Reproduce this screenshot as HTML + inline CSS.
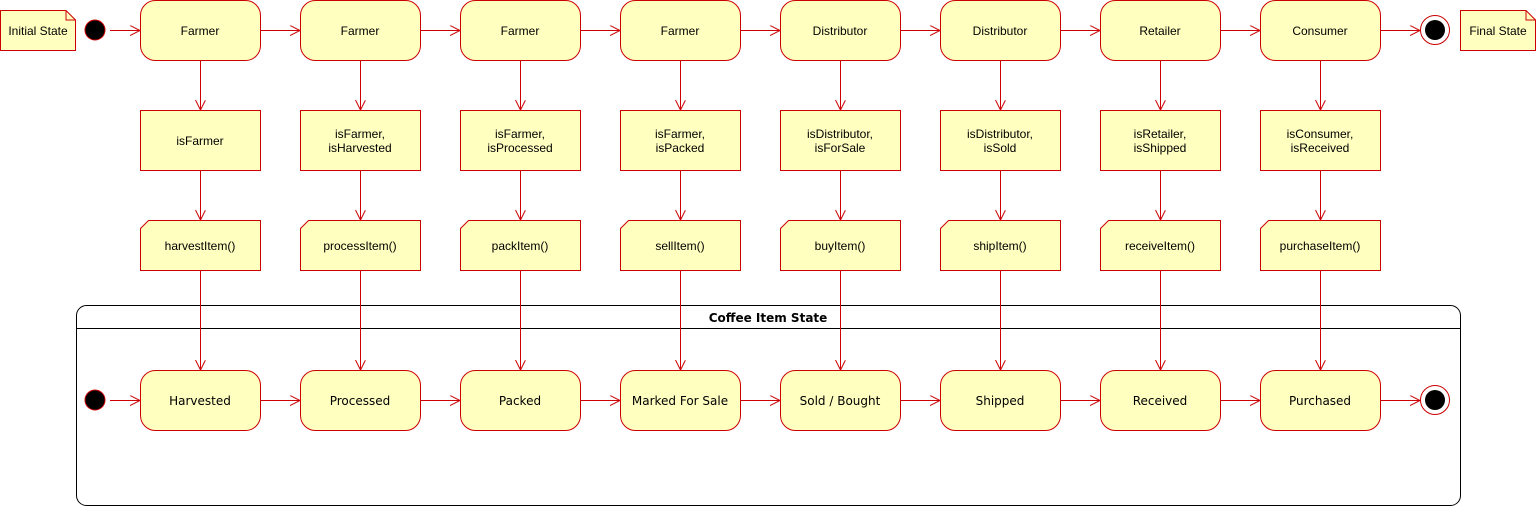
<!DOCTYPE html>
<html><head><meta charset="utf-8"><style>
html,body{margin:0;padding:0;background:#fff;}
svg{display:block}
text{font-family:"Liberation Sans",Arial,sans-serif;font-size:12px;fill:#000;text-anchor:middle;dominant-baseline:central}
.v{font-family:"DejaVu Sans",Verdana,sans-serif;font-size:12px}
.s{fill:#ffffc0;stroke:#cc0000;stroke-width:1}
.l{stroke:#cc0000;stroke-width:1;fill:none}
</style></head><body>
<svg width="1536" height="506" viewBox="0 0 1536 506" xmlns="http://www.w3.org/2000/svg">
<defs>
<marker id="a" markerWidth="12" markerHeight="12" refX="10" refY="5" orient="auto" markerUnits="userSpaceOnUse">
<path d="M0,0 L10,5 L0,10" fill="none" stroke="#cc0000" stroke-width="1"/>
</marker>
</defs>
<!-- container -->
<rect x="76.5" y="305.5" width="1384" height="200" rx="10" fill="#fff" stroke="#000"/>
<line x1="76.5" y1="328.5" x2="1460.5" y2="328.5" stroke="#000"/>
<text x="768" y="318" class="v" style="font-weight:bold">Coffee Item State</text>

<!-- notes -->
<path class="s" d="M0.5,10.5 H66 L75.5,20 V50.5 H0.5 Z"/><path class="l" d="M66,10.5 V20 H75.5"/>
<text x="38" y="31">Initial State</text>
<path class="s" d="M1460.5,10.5 H1526 L1535.5,20 V50.5 H1460.5 Z"/><path class="l" d="M1526,10.5 V20 H1535.5"/>
<text x="1498" y="31">Final State</text>

<!-- start/end top -->
<circle cx="95" cy="30" r="10" fill="#000" stroke="#cc0000"/>
<circle cx="1435" cy="30" r="14.5" fill="#fff" stroke="#cc0000"/>
<circle cx="1435" cy="30" r="10" fill="#000"/>
<circle cx="95" cy="400" r="10" fill="#000" stroke="#cc0000"/>
<circle cx="1435" cy="400" r="14.5" fill="#fff" stroke="#cc0000"/>
<circle cx="1435" cy="400" r="10" fill="#000"/>

<!-- horizontal arrows -->
<g class="l" marker-end="url(#a)">
<line x1="110" y1="30.5" x2="140" y2="30.5"/>
<line x1="260" y1="30.5" x2="300" y2="30.5"/>
<line x1="420" y1="30.5" x2="460" y2="30.5"/>
<line x1="580" y1="30.5" x2="620" y2="30.5"/>
<line x1="740" y1="30.5" x2="780" y2="30.5"/>
<line x1="900" y1="30.5" x2="940" y2="30.5"/>
<line x1="1060" y1="30.5" x2="1100" y2="30.5"/>
<line x1="1220" y1="30.5" x2="1260" y2="30.5"/>
<line x1="1380" y1="30.5" x2="1420" y2="30.5"/>
<line x1="110" y1="400.5" x2="140" y2="400.5"/>
<line x1="260" y1="400.5" x2="300" y2="400.5"/>
<line x1="420" y1="400.5" x2="460" y2="400.5"/>
<line x1="580" y1="400.5" x2="620" y2="400.5"/>
<line x1="740" y1="400.5" x2="780" y2="400.5"/>
<line x1="900" y1="400.5" x2="940" y2="400.5"/>
<line x1="1060" y1="400.5" x2="1100" y2="400.5"/>
<line x1="1220" y1="400.5" x2="1260" y2="400.5"/>
<line x1="1380" y1="400.5" x2="1420" y2="400.5"/>
</g>
<!-- vertical arrows -->
<g class="l" marker-end="url(#a)">
<line x1="200.5" y1="60" x2="200.5" y2="110"/><line x1="200.5" y1="170" x2="200.5" y2="220"/><line x1="200.5" y1="270" x2="200.5" y2="370"/>
<line x1="360.5" y1="60" x2="360.5" y2="110"/><line x1="360.5" y1="170" x2="360.5" y2="220"/><line x1="360.5" y1="270" x2="360.5" y2="370"/>
<line x1="520.5" y1="60" x2="520.5" y2="110"/><line x1="520.5" y1="170" x2="520.5" y2="220"/><line x1="520.5" y1="270" x2="520.5" y2="370"/>
<line x1="680.5" y1="60" x2="680.5" y2="110"/><line x1="680.5" y1="170" x2="680.5" y2="220"/><line x1="680.5" y1="270" x2="680.5" y2="370"/>
<line x1="840.5" y1="60" x2="840.5" y2="110"/><line x1="840.5" y1="170" x2="840.5" y2="220"/><line x1="840.5" y1="270" x2="840.5" y2="370"/>
<line x1="1000.5" y1="60" x2="1000.5" y2="110"/><line x1="1000.5" y1="170" x2="1000.5" y2="220"/><line x1="1000.5" y1="270" x2="1000.5" y2="370"/>
<line x1="1160.5" y1="60" x2="1160.5" y2="110"/><line x1="1160.5" y1="170" x2="1160.5" y2="220"/><line x1="1160.5" y1="270" x2="1160.5" y2="370"/>
<line x1="1320.5" y1="60" x2="1320.5" y2="110"/><line x1="1320.5" y1="170" x2="1320.5" y2="220"/><line x1="1320.5" y1="270" x2="1320.5" y2="370"/>
</g>

<!-- top states -->
<g class="s">
<rect x="140.5" y="0.5" width="120" height="60" rx="15"/>
<rect x="300.5" y="0.5" width="120" height="60" rx="15"/>
<rect x="460.5" y="0.5" width="120" height="60" rx="15"/>
<rect x="620.5" y="0.5" width="120" height="60" rx="15"/>
<rect x="780.5" y="0.5" width="120" height="60" rx="15"/>
<rect x="940.5" y="0.5" width="120" height="60" rx="15"/>
<rect x="1100.5" y="0.5" width="120" height="60" rx="15"/>
<rect x="1260.5" y="0.5" width="120" height="60" rx="15"/>
<rect x="140.5" y="110.5" width="120" height="60"/>
<rect x="300.5" y="110.5" width="120" height="60"/>
<rect x="460.5" y="110.5" width="120" height="60"/>
<rect x="620.5" y="110.5" width="120" height="60"/>
<rect x="780.5" y="110.5" width="120" height="60"/>
<rect x="940.5" y="110.5" width="120" height="60"/>
<rect x="1100.5" y="110.5" width="120" height="60"/>
<rect x="1260.5" y="110.5" width="120" height="60"/>
<path d="M148.5,220.5 H260.5 V270.5 H140.5 V228.5 Z"/>
<path d="M308.5,220.5 H420.5 V270.5 H300.5 V228.5 Z"/>
<path d="M468.5,220.5 H580.5 V270.5 H460.5 V228.5 Z"/>
<path d="M628.5,220.5 H740.5 V270.5 H620.5 V228.5 Z"/>
<path d="M788.5,220.5 H900.5 V270.5 H780.5 V228.5 Z"/>
<path d="M948.5,220.5 H1060.5 V270.5 H940.5 V228.5 Z"/>
<path d="M1108.5,220.5 H1220.5 V270.5 H1100.5 V228.5 Z"/>
<path d="M1268.5,220.5 H1380.5 V270.5 H1260.5 V228.5 Z"/>
<rect x="140.5" y="370.5" width="120" height="60" rx="15"/>
<rect x="300.5" y="370.5" width="120" height="60" rx="15"/>
<rect x="460.5" y="370.5" width="120" height="60" rx="15"/>
<rect x="620.5" y="370.5" width="120" height="60" rx="15"/>
<rect x="780.5" y="370.5" width="120" height="60" rx="15"/>
<rect x="940.5" y="370.5" width="120" height="60" rx="15"/>
<rect x="1100.5" y="370.5" width="120" height="60" rx="15"/>
<rect x="1260.5" y="370.5" width="120" height="60" rx="15"/>
</g>

<text x="200" y="31">Farmer</text>
<text x="360" y="31">Farmer</text>
<text x="520" y="31">Farmer</text>
<text x="680" y="31">Farmer</text>
<text x="840" y="31">Distributor</text>
<text x="1000" y="31">Distributor</text>
<text x="1160" y="31">Retailer</text>
<text x="1320" y="31">Consumer</text>

<text x="200" y="141">isFarmer</text>
<text x="360" y="134">isFarmer,</text><text x="360" y="148">isHarvested</text>
<text x="520" y="134">isFarmer,</text><text x="520" y="148">isProcessed</text>
<text x="680" y="134">isFarmer,</text><text x="680" y="148">isPacked</text>
<text x="840" y="134">isDistributor,</text><text x="840" y="148">isForSale</text>
<text x="1000" y="134">isDistributor,</text><text x="1000" y="148">isSold</text>
<text x="1160" y="134">isRetailer,</text><text x="1160" y="148">isShipped</text>
<text x="1320" y="134">isConsumer,</text><text x="1320" y="148">isReceived</text>

<text x="200" y="246">harvestItem()</text>
<text x="360" y="246">processItem()</text>
<text x="520" y="246">packItem()</text>
<text x="680" y="246">sellItem()</text>
<text x="840" y="246">buyItem()</text>
<text x="1000" y="246">shipItem()</text>
<text x="1160" y="246">receiveItem()</text>
<text x="1320" y="246">purchaseItem()</text>

<text class="v" x="200" y="401">Harvested</text>
<text class="v" x="360" y="401">Processed</text>
<text class="v" x="520" y="401">Packed</text>
<text class="v" x="680" y="401">Marked For Sale</text>
<text class="v" x="840" y="401">Sold / Bought</text>
<text class="v" x="1000" y="401">Shipped</text>
<text class="v" x="1160" y="401">Received</text>
<text class="v" x="1320" y="401">Purchased</text>
</svg>
</body></html>
